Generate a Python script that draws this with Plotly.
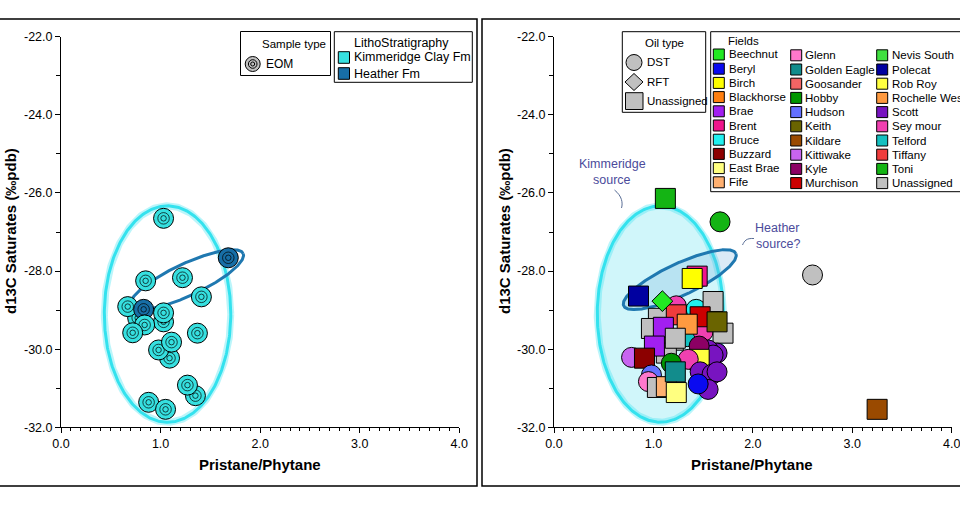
import numpy as np
import plotly.graph_objects as go

W, H = 960, 516
FONT = "Liberation Sans, Arial, sans-serif"

# ---------------- data ----------------
# Left panel: source-rock extracts (EOM), coloured by lithostratigraphy
eom_litho = ["Kimmeridge Clay Fm", "Kimmeridge Clay Fm", "Kimmeridge Clay Fm", "Heather Fm",
             "Kimmeridge Clay Fm", "Kimmeridge Clay Fm", "Kimmeridge Clay Fm", "Kimmeridge Clay Fm",
             "Kimmeridge Clay Fm", "Kimmeridge Clay Fm", "Kimmeridge Clay Fm", "Kimmeridge Clay Fm",
             "Kimmeridge Clay Fm", "Kimmeridge Clay Fm", "Kimmeridge Clay Fm", "Kimmeridge Clay Fm",
             "Kimmeridge Clay Fm", "Kimmeridge Clay Fm", "Kimmeridge Clay Fm", "Heather Fm"]
eom_x = [0.77, 0.67, 1.03, 0.83, 0.84, 1.03, 0.72, 1.03, 0.85, 1.22,
         1.41, 1.37, 1.09, 0.98, 1.11, 1.35, 1.27, 0.88, 1.05, 1.68]
eom_y = [-29.20, -28.91, -29.30, -28.98, -29.38, -29.07, -29.58, -26.65, -28.25, -28.17,
         -28.66, -29.59, -30.23, -30.02, -29.82, -31.19, -30.92, -31.36, -31.54, -27.66]

litho_names = ["Kimmeridge Clay Fm", "Heather Fm"]
litho_colors = ["#36e0e0", "#176ea6"]

# Right panel: oils, coloured by field, symbol by oil type
field_names = ["Beechnut", "Beryl", "Birch", "Blackhorse", "Brae", "Brent", "Bruce", "Buzzard",
               "East Brae", "Fife", "Glenn", "Golden Eagle", "Goosander", "Hobby", "Hudson",
               "Keith", "Kildare", "Kittiwake", "Kyle", "Murchison", "Nevis South", "Polecat",
               "Rob Roy", "Rochelle West", "Scott", "Sey mour", "Telford", "Tiffany", "Toni",
               "Unassigned"]
field_colors = ["#22e822", "#0a0af0", "#ffff00", "#ff7f10", "#a21ff0", "#f0148c", "#20f0f0",
                "#8c0000", "#ffff80", "#ffb070", "#ff78cc", "#128c8c", "#f26464", "#009600",
                "#6470ff", "#6a6400", "#9a4a00", "#c864f0", "#8c0064", "#cc0000", "#40e040",
                "#0000a0", "#ffff40", "#ff9a40", "#7814c0", "#f040b0", "#14c0c0", "#f03c3c",
                "#14b414", "#c0c0c0"]
oil_type_names = ["DST", "RFT", "Unassigned"]

oil_field = ["Unassigned", "Unassigned", "Unassigned", "Unassigned", "Sey mour", "Bruce",
             "Telford", "Sey mour", "Unassigned", "Unassigned", "Tiffany", "Murchison",
             "Rochelle West", "Keith", "Brae", "Unassigned", "Brae", "Scott", "Scott", "Scott",
             "Kyle", "Rob Roy", "Sey mour", "Kittiwake", "Buzzard", "Hudson", "Glenn",
             "Unassigned", "Fife", "Hobby", "Golden Eagle", "East Brae", "Scott", "Scott",
             "Scott", "Scott", "Beryl", "Polecat", "Beechnut", "Brent", "Birch", "Toni",
             "Toni", "Unassigned", "Kildare"]
oil_type = ["Unassigned", "Unassigned", "Unassigned", "Unassigned", "DST", "DST",
            "DST", "DST", "Unassigned", "Unassigned", "Unassigned", "Unassigned",
            "Unassigned", "Unassigned", "Unassigned", "Unassigned", "Unassigned", "DST", "DST", "DST",
            "DST", "Unassigned", "DST", "DST", "Unassigned", "DST", "DST",
            "Unassigned", "Unassigned", "DST", "Unassigned", "Unassigned", "DST", "DST",
            "DST", "DST", "DST", "Unassigned", "RFT", "Unassigned", "Unassigned", "Unassigned",
            "DST", "DST", "Unassigned"]
oil_x = [1.05, 0.98, 1.20, 1.13, 1.23, 1.43,
         1.34, 1.50, 1.60, 1.70, 1.23, 1.47,
         1.34, 1.64, 1.10, 1.22, 1.01, 1.64, 1.55, 1.60,
         1.46, 1.46, 1.35, 0.78, 0.91, 0.98, 0.95,
         1.04, 1.13, 1.18, 1.22, 1.23, 1.47, 1.59,
         1.64, 1.55, 1.45, 0.85, 1.09, 1.44, 1.39, 1.12,
         1.67, 2.60, 3.25]
oil_y = [-29.21, -29.47, -29.77, -30.10, -28.89, -28.98,
         -29.68, -29.55, -28.78, -29.59, -29.12, -29.17,
         -29.36, -29.30, -29.44, -29.72, -29.92, -30.10, -30.02, -30.15,
         -29.92, -30.26, -30.26, -30.21, -30.23, -30.66, -30.83,
         -30.98, -30.96, -30.36, -30.58, -31.11, -30.58, -30.64,
         -30.58, -31.03, -30.89, -28.64, -28.77, -28.13, -28.19, -26.14,
         -26.74, -28.10, -31.54]

x_ticks = [0, 1, 2, 3, 4]
x_tick_labels = ["0.0", "1.0", "2.0", "3.0", "4.0"]
y_ticks = [-22, -24, -26, -28, -30, -32]
y_tick_labels = ["-22.0", "-24.0", "-26.0", "-28.0", "-30.0", "-32.0"]

# source envelopes (annotations)
kimm_center = (1.07, -29.1)
kimm_radii = (0.635, 2.77)
heather_center = (1.265, -28.22)
heather_axes_px = (62, 16)
heather_angle_deg = 25

# ---------------- layout geometry (pixels) ----------------
L_PLOT = (61, 459.3)
R_PLOT = (554, 951.7)
TOP, BOT = 36.7, 427.3
sx = (L_PLOT[1] - L_PLOT[0]) / 4.0
sy = (BOT - TOP) / 10.0


def PX(x):
    return x / W


def PY(y):
    return 1 - y / H


fig = go.Figure()

t = np.linspace(0, 2 * np.pi, 361)
kx = kimm_center[0] + kimm_radii[0] * np.cos(t)
ky = kimm_center[1] + kimm_radii[1] * np.sin(t)
phi = np.radians(heather_angle_deg)
a, b = heather_axes_px
hx = heather_center[0] + (a * np.cos(t) * np.cos(phi) - b * np.sin(t) * np.sin(phi)) / sx
hy = heather_center[1] + (a * np.cos(t) * np.sin(phi) + b * np.sin(t) * np.cos(phi)) / sy

for ax in ["", "2"]:
    xa, ya = "x" + ax, "y" + ax
    filled = ax == "2"
    fig.add_trace(go.Scatter(x=kx, y=ky, mode="lines", xaxis=xa, yaxis=ya, hoverinfo="skip",
                             fill="toself" if filled else None,
                             fillcolor="rgba(150,236,245,0.45)",
                             line=dict(color="rgba(60,225,240,0.35)", width=7)))
    fig.add_trace(go.Scatter(x=kx, y=ky, mode="lines", xaxis=xa, yaxis=ya, hoverinfo="skip",
                             line=dict(color="#34e2ee", width=3)))
    fig.add_trace(go.Scatter(x=hx, y=hy, mode="lines", xaxis=xa, yaxis=ya, hoverinfo="skip",
                             fill="toself" if filled else None,
                             fillcolor="rgba(110,170,220,0.25)",
                             line=dict(color="#1f78b0", width=3)))

# left panel EOM target markers
for xi, yi, li in zip(eom_x, eom_y, eom_litho):
    col = litho_colors[litho_names.index(li)]
    fig.add_trace(go.Scatter(x=[xi], y=[yi], mode="markers", xaxis="x", yaxis="y", hoverinfo="skip",
                             marker=dict(symbol="circle", size=20, color=col,
                                         line=dict(color="black", width=1))))
    fig.add_trace(go.Scatter(x=[xi, xi], y=[yi, yi], mode="markers", xaxis="x", yaxis="y",
                             hoverinfo="skip",
                             marker=dict(symbol="circle-open", size=[11.5, 5.5], color="black",
                                         line=dict(width=1))))

# right panel oils
sym = {"DST": ("circle", 20), "RFT": ("diamond", 16), "Unassigned": ("square", 20)}
for f, ot, xi, yi in zip(oil_field, oil_type, oil_x, oil_y):
    s, sz = sym[ot]
    fig.add_trace(go.Scatter(x=[xi], y=[yi], mode="markers", xaxis="x2", yaxis="y2",
                             hoverinfo="skip",
                             marker=dict(symbol=s, size=sz, color=field_colors[field_names.index(f)],
                                         line=dict(color="black", width=1))))

axis_common = dict(showline=True, linecolor="black", linewidth=1, ticks="outside", ticklen=5,
                   tickwidth=1, tickcolor="black", showgrid=False, zeroline=False,
                   automargin=False, ticklabeloverflow="allow",
                   tickfont=dict(family=FONT, size=12.5, color="black"), fixedrange=True)
xa_common = dict(axis_common, range=[0, 4], tickvals=x_ticks, ticktext=x_tick_labels,
                 minor=dict(dtick=0.1, tick0=0, ticklen=3, ticks="outside", tickcolor="black"))
ya_common = dict(axis_common, range=[-32, -22], tickvals=y_ticks, ticktext=y_tick_labels,
                 minor=dict(dtick=1, tick0=-22, ticklen=4, ticks="outside", tickcolor="black"))

shapes, anns = [], []


def rect(x0, y0, x1, y1, fill="rgba(0,0,0,0)", lw=1):
    shapes.append(dict(type="rect", xref="paper", yref="paper", x0=PX(x0), x1=PX(x1),
                       y0=PY(y1), y1=PY(y0), line=dict(color="black", width=lw), fillcolor=fill))


def text(s, x, y, size=12, xanchor="left", color="black", bold=False, angle=0):
    anns.append(dict(text="<b>%s</b>" % s if bold else s, x=PX(x), y=PY(y), xref="paper",
                     yref="paper", xanchor=xanchor, yanchor="middle", showarrow=False,
                     textangle=angle, font=dict(family=FONT, size=size, color=color)))


def circ(cx, cy, r, fill, lw=1):
    shapes.append(dict(type="circle", xref="paper", yref="paper", x0=PX(cx - r), x1=PX(cx + r),
                       y0=PY(cy + r), y1=PY(cy - r), line=dict(color="black", width=lw),
                       fillcolor=fill))


def path(pts_px, closed=False, fill="rgba(0,0,0,0)", color="black", lw=1, curve=False):
    if curve:
        d = "M%.5f,%.5f C" % (PX(pts_px[0][0]), PY(pts_px[0][1]))
        d += " ".join("%.5f,%.5f" % (PX(x), PY(y)) for x, y in pts_px[1:])
    else:
        d = "M" + " L".join("%.5f,%.5f" % (PX(x), PY(y)) for x, y in pts_px)
    if closed:
        d += " Z"
    shapes.append(dict(type="path", xref="paper", yref="paper", path=d,
                       line=dict(color=color, width=lw), fillcolor=fill))


# panel frames
rect(-5, 19, 477, 486, lw=1.5)
rect(482, 19, 965, 486, lw=1.5)

# left legends
rect(240.5, 31.5, 330.5, 75.5)
text("Sample type", 328, 43.5, 11.5, xanchor="right")
circ(252.7, 64, 7.5, "#c0c0c0")
circ(252.7, 64, 4.3, "rgba(0,0,0,0)")
circ(252.7, 64, 2, "rgba(0,0,0,0)")
text("EOM", 263.5, 63.5, 12)
rect(334.3, 31.7, 472.3, 82.3)
text("LithoStratigraphy", 351.5, 42.7, 12.5)
for i, (n, c) in enumerate(zip(litho_names, litho_colors)):
    yc = 57.5 + 16 * i
    rect(338.3, yc - 5.8, 349.5, yc + 5.8, fill=c)
    text(n, 351.5, yc, 12.5)

# right legends
rect(622.3, 31.7, 705.7, 112.3)
text("Oil type", 664.5, 43, 11.5, xanchor="center")
circ(634, 62.5, 8, "#c0c0c0")
path([(634, 73.5), (643, 82), (634, 90.5), (625, 82)], closed=True, fill="#c0c0c0")
rect(625.5, 92.7, 643, 109.5, fill="#c0c0c0")
text("DST", 645, 62.3, 11.5)
text("RFT", 645, 82, 11.5)
text("Unassigned", 645, 101.3, 11.5)

rect(710.7, 31.7, 975, 191.7)
text("Fields", 726, 41, 11.5)
col_sw = [713.3, 790.7, 876.7]
col_tx = [726.5, 803.3, 890]
for i, (n, c) in enumerate(zip(field_names, field_colors)):
    ci, ri = i // 10, i % 10
    yc = 54.5 + 14.2 * ri + (0.8 if ci else 0)
    rect(col_sw[ci], yc - 5.5, col_sw[ci] + 11, yc + 5.5, fill=c)
    text(n, col_tx[ci], yc, 11.5)

# source annotations
SRC = "#4b4b9b"
text("Kimmeridge", 612, 164, 12.5, xanchor="center", color=SRC)
text("source", 612, 180.5, 12.5, xanchor="center", color=SRC)
text("Heather", 777, 228, 12.5, xanchor="center", color=SRC)
text("source?", 778, 244, 12.5, xanchor="center", color=SRC)
path([(614.5, 190), (622, 196), (623, 203), (621.5, 208), (620.5, 213), (623, 218), (626, 222)],
     color="#5a6e96", lw=1, curve=True)
path([(754, 238.5), (746, 238), (744.5, 241), (742.5, 245), (741, 248.5), (738.5, 251.5), (735.5, 252.5)],
     color="#5a6e96", lw=1, curve=True)

# axis titles
for cx in [(L_PLOT[0] + L_PLOT[1]) / 2, 751.7]:
    text("Pristane/Phytane", cx, 464.3, 15, xanchor="center", bold=True)
for cx in [10, 504]:
    text("d13C Saturates (‰pdb)", cx, 231, 15, xanchor="center", bold=True, angle=-90)

fig.update_layout(
    width=W, height=H, margin=dict(l=0, r=0, t=0, b=0, pad=0, autoexpand=False),
    paper_bgcolor="white", plot_bgcolor="rgba(0,0,0,0)", showlegend=False,
    xaxis=dict(xa_common, domain=[PX(L_PLOT[0]), PX(L_PLOT[1])], anchor="y"),
    yaxis=dict(ya_common, domain=[PY(BOT), PY(TOP)], anchor="x"),
    xaxis2=dict(xa_common, domain=[PX(R_PLOT[0]), PX(R_PLOT[1])], anchor="y2"),
    yaxis2=dict(ya_common, domain=[PY(BOT), PY(TOP)], anchor="x2"),
    shapes=shapes, annotations=anns,
)
fig.write_html("out.html", config={"responsive": False, "displayModeBar": False},
               post_script="document.body.style.margin='0';document.body.style.padding='0';"
                           "document.body.style.overflow='hidden';")
